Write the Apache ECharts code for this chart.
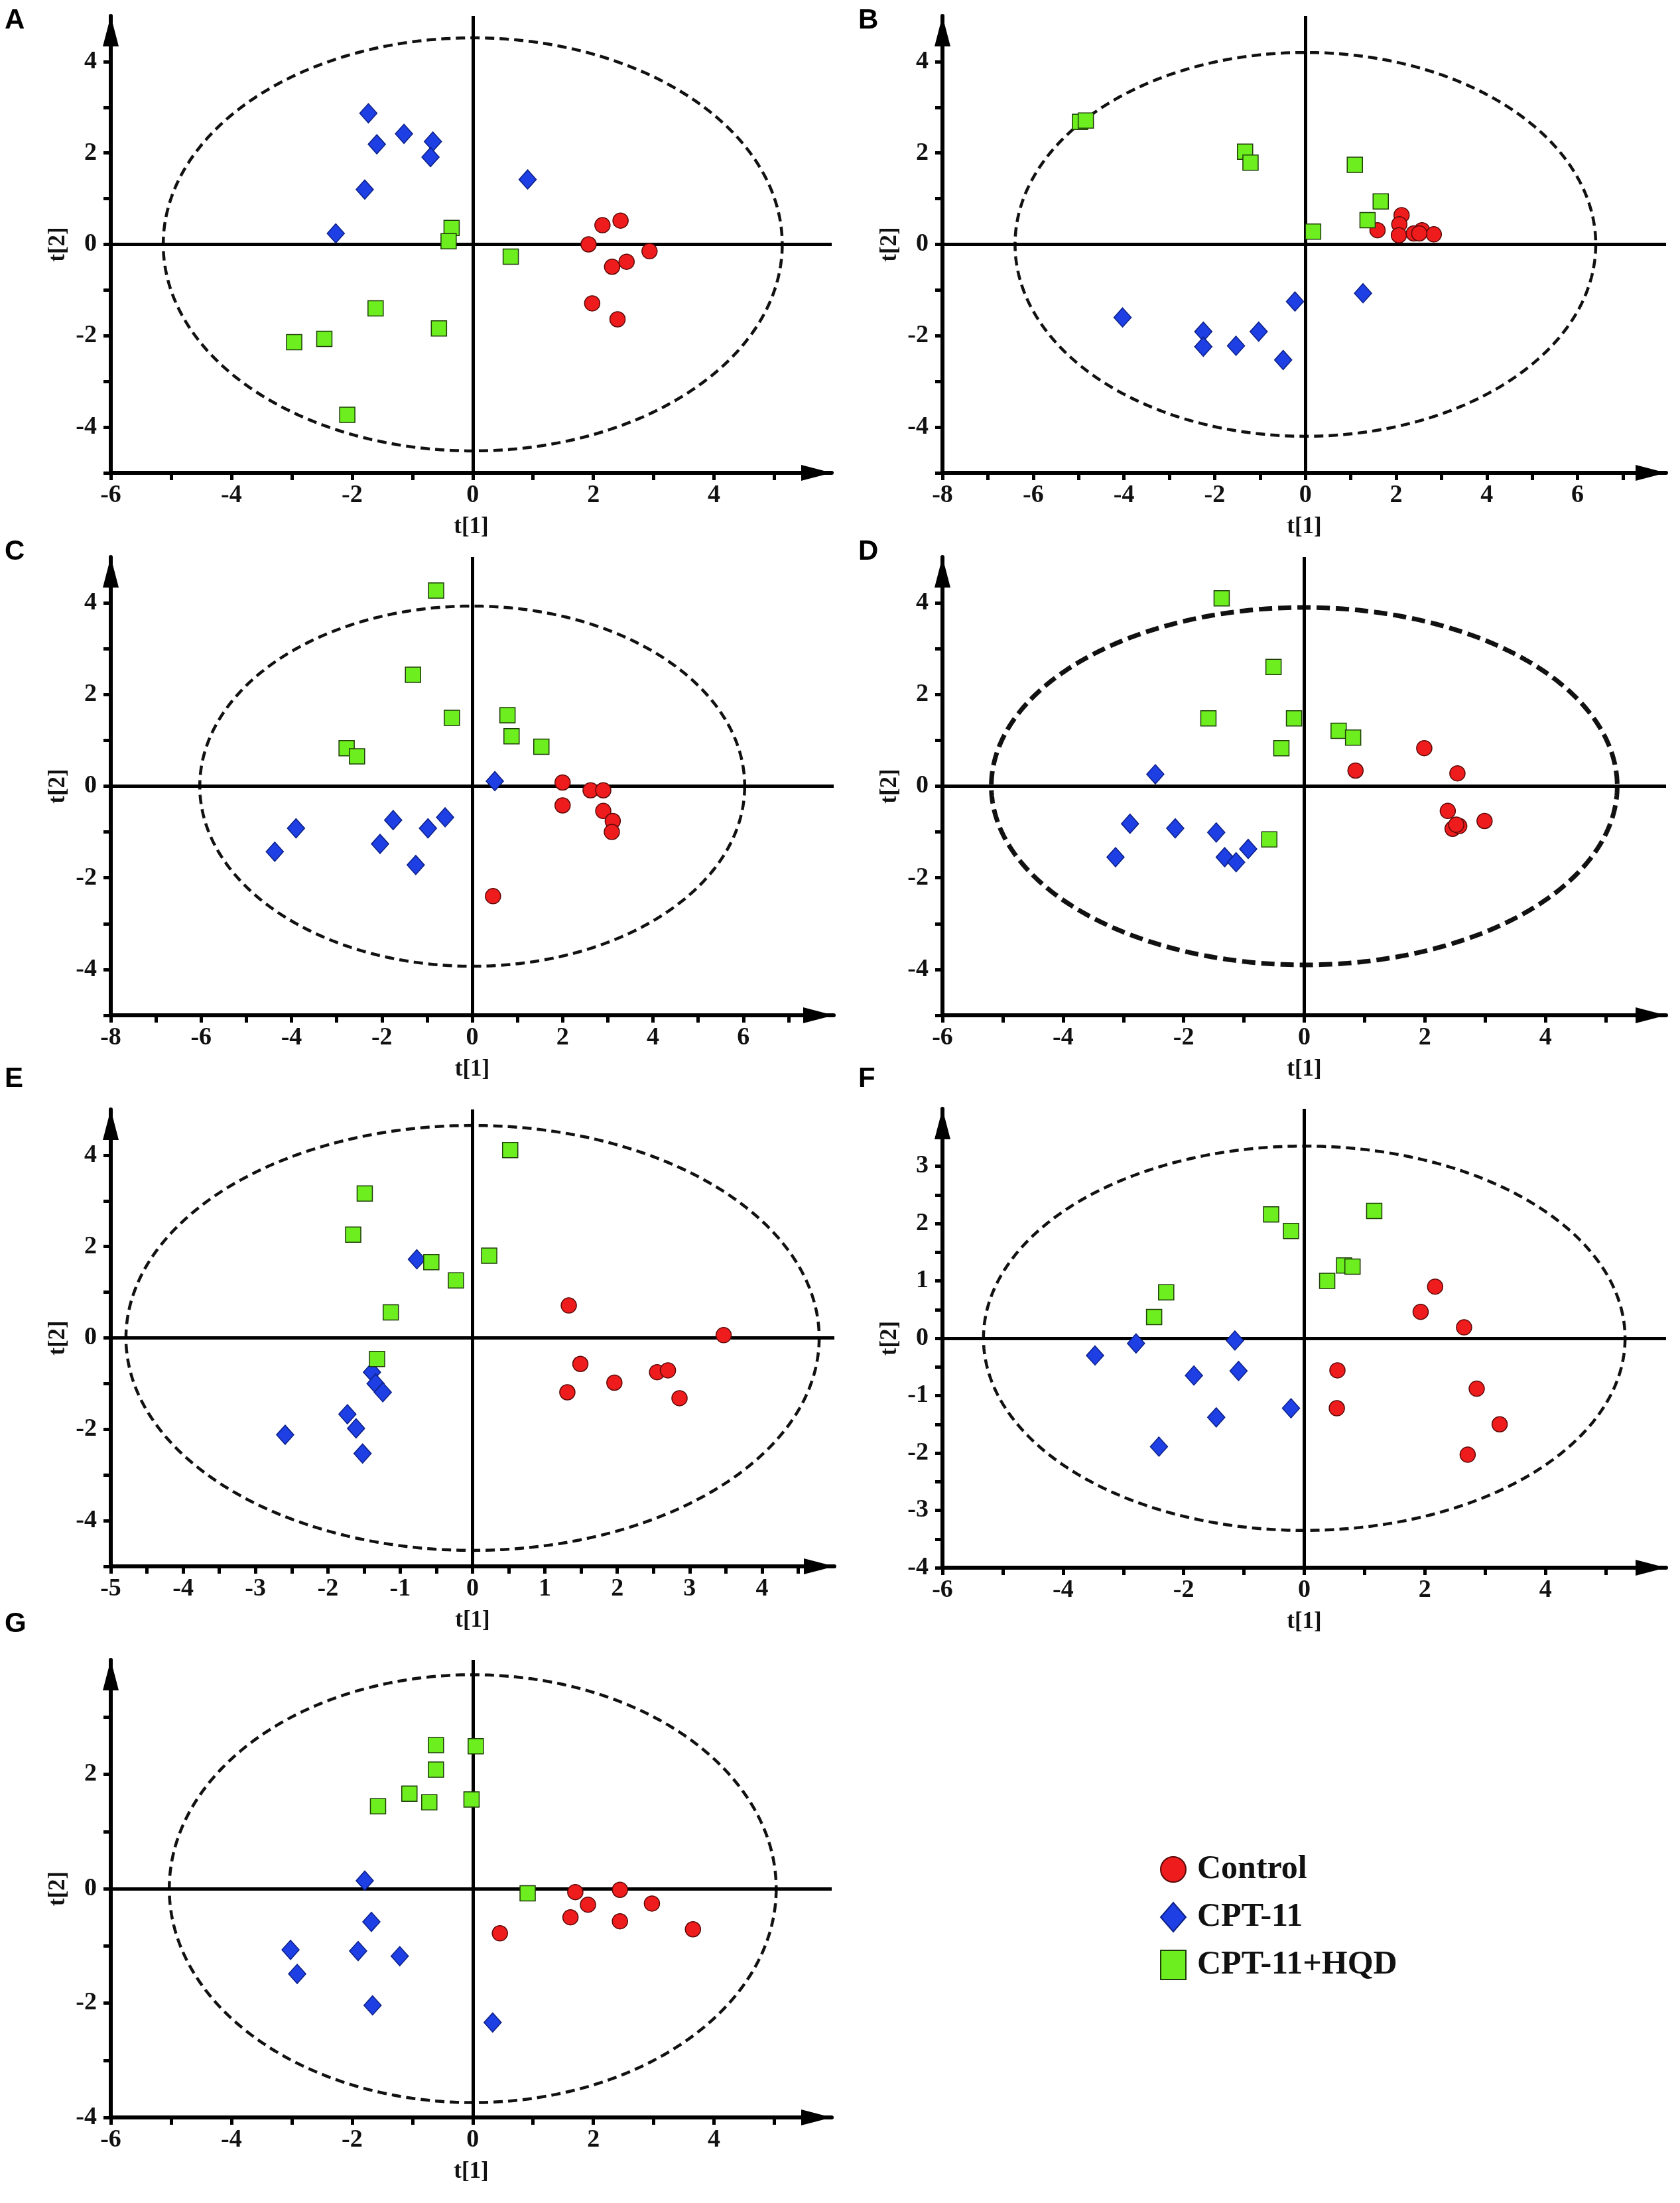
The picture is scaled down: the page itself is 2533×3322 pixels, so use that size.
<!DOCTYPE html>
<html><head><meta charset="utf-8">
<script src="https://cdn.jsdelivr.net/npm/echarts@6/dist/echarts.min.js"></script>
<style>html,body{margin:0;padding:0;background:#fff}#c{width:2533px;height:3322px}</style>
</head><body><div id="c"></div>
<script>
// ---------- DATA ----------
const groupNames = ['Control', 'CPT-11', 'CPT-11+HQD'];

// Panel A
const ctrlA = [[1.92,0.00],[2.15,0.42],[2.45,0.52],[2.93,-0.15],[2.31,-0.49],[2.55,-0.38],[1.98,-1.29],[2.40,-1.64]];
const cptA  = [[-1.73,2.87],[-1.59,2.19],[-1.14,2.42],[-0.66,2.25],[-0.70,1.91],[-1.79,1.20],[-2.27,0.24],[0.91,1.42]];
const hqdA  = [[-0.35,0.36],[-0.40,0.07],[0.63,-0.27],[-1.61,-1.40],[-0.56,-1.84],[-2.46,-2.07],[-2.96,-2.14],[-2.08,-3.73]];
const ellA  = [0, 0, 5.13, 4.52];
// Panel B
const ctrlB = [[1.59,0.31],[2.12,0.64],[2.07,0.44],[2.06,0.20],[2.39,0.24],[2.57,0.31],[2.83,0.22],[2.51,0.24]];
const cptB  = [[-4.03,-1.60],[-2.25,-1.91],[-2.25,-2.24],[-1.53,-2.22],[-1.03,-1.91],[-0.23,-1.25],[-0.49,-2.53],[1.27,-1.07]];
const hqdB  = [[-4.97,2.68],[-4.84,2.71],[-1.33,2.03],[-1.21,1.79],[1.09,1.74],[1.66,0.94],[1.37,0.53],[0.17,0.28]];
const ellB  = [0, 0, 6.40, 4.20];
// Panel C
const ctrlC = [[2.00,0.08],[2.00,-0.42],[2.62,-0.09],[2.90,-0.09],[2.90,-0.54],[3.11,-0.76],[3.09,-1.00],[0.46,-2.40]];
const cptC  = [[0.50,0.11],[-4.37,-1.43],[-3.90,-0.92],[-1.75,-0.74],[-2.04,-1.26],[-0.98,-0.92],[-0.60,-0.68],[-1.25,-1.72]];
const hqdC  = [[-0.80,4.27],[-1.31,2.43],[-0.45,1.49],[0.78,1.55],[0.87,1.09],[1.53,0.86],[-2.78,0.83],[-2.55,0.65]];
const ellC  = [0, 0, 6.03, 3.93];
// Panel D
const ctrlD = [[1.99,0.83],[0.85,0.34],[2.54,0.28],[2.38,-0.54],[2.46,-0.93],[2.57,-0.87],[2.99,-0.76],[2.52,-0.84]];
const cptD  = [[-2.47,0.26],[-2.89,-0.82],[-3.13,-1.55],[-2.14,-0.92],[-1.46,-1.01],[-1.32,-1.55],[-1.13,-1.66],[-0.93,-1.37]];
const hqdD  = [[-1.37,4.10],[-0.51,2.60],[-1.59,1.48],[-0.17,1.48],[-0.38,0.83],[0.57,1.21],[0.81,1.06],[-0.58,-1.16]];
const ellD  = [0, 0, 5.19, 3.90];
// Panel E
const ctrlE = [[1.33,0.71],[3.47,0.06],[1.49,-0.57],[1.96,-0.98],[2.55,-0.75],[2.70,-0.71],[1.31,-1.19],[2.86,-1.32]];
const cptE  = [[-0.77,1.72],[-1.39,-0.75],[-1.34,-1.00],[-1.24,-1.19],[-1.73,-1.67],[-1.61,-1.98],[-1.52,-2.53],[-2.59,-2.12]];
const hqdE  = [[0.52,4.11],[-1.49,3.16],[-1.65,2.26],[-0.57,1.66],[-0.23,1.26],[0.23,1.80],[-1.13,0.56],[-1.32,-0.46]];
const ellE  = [0, 0, 4.79, 4.65];
// Panel F
const ctrlF = [[2.17,0.90],[1.93,0.46],[2.65,0.19],[0.55,-0.56],[0.54,-1.22],[2.86,-0.88],[3.24,-1.50],[2.71,-2.03]];
const cptF  = [[-3.47,-0.30],[-2.79,-0.09],[-1.15,-0.04],[-1.83,-0.65],[-1.09,-0.57],[-1.46,-1.38],[-0.22,-1.22],[-2.41,-1.89]];
const hqdF  = [[-0.55,2.16],[-0.22,1.87],[1.16,2.22],[0.66,1.27],[0.80,1.25],[0.38,1.00],[-2.29,0.80],[-2.49,0.37]];
const ellF  = [0, 0, 5.32, 3.35];
// Panel G
const ctrlG = [[1.70,-0.06],[2.44,-0.02],[1.91,-0.28],[2.97,-0.26],[1.62,-0.50],[2.44,-0.57],[0.45,-0.78],[3.65,-0.71]];
const cptG  = [[-1.79,0.14],[-1.68,-0.58],[-3.02,-1.07],[-2.91,-1.49],[-1.90,-1.09],[-1.21,-1.18],[-1.66,-2.04],[0.33,-2.34]];
const hqdG  = [[-0.61,2.51],[0.05,2.49],[-0.61,2.08],[-1.05,1.66],[-0.72,1.51],[-0.02,1.56],[-1.57,1.44],[0.91,-0.08]];
const ellG  = [0, 0, 5.03, 3.74];

// Tick positions and tick labels
const xTicks6   = [-6,-5,-4,-3,-2,-1,0,1,2,3,4,5];
const xLabels6  = [-6,-4,-2,0,2,4];
const xTicks8   = [-8,-7,-6,-5,-4,-3,-2,-1,0,1,2,3,4,5,6,7];
const xLabels8  = [-8,-6,-4,-2,0,2,4,6];
const xTicksE   = [-5,-4.5,-4,-3.5,-3,-2.5,-2,-1.5,-1,-0.5,0,0.5,1,1.5,2,2.5,3,3.5,4,4.5];
const xLabelsE  = [-5,-4,-3,-2,-1,0,1,2,3,4];
const yTicks5   = [-5,-4,-3,-2,-1,0,1,2,3,4];
const yLabels5  = [-4,-2,0,2,4];
const yTicksF   = [-4,-3.5,-3,-2.5,-2,-1.5,-1,-0.5,0,0.5,1,1.5,2,2.5,3,3.5];
const yLabelsF  = [-4,-3,-2,-1,0,1,2,3];
const yTicksG   = [-4,-3,-2,-1,0,1,2,3];
const yLabelsG  = [-4,-2,0,2];

// ---------- LAYOUT ----------
const panels = [
  {letter:'A', lx:7,    ly:10,   grid:{left:167, top:24,   width:1087, height:689}, x:[-6,5.95], y:[-5,5], xt:xTicks6, xl:xLabels6, yt:yTicks5, yl:yLabels5, d:[ctrlA,cptA,hqdA], e:ellA, lw:4.5, dash:[14,8]},
  {letter:'B', lx:1294, ly:10,   grid:{left:1421,top:24,   width:1091, height:689}, x:[-8,7.95], y:[-5,5], xt:xTicks8, xl:xLabels8, yt:yTicks5, yl:yLabels5, d:[ctrlB,cptB,hqdB], e:ellB, lw:4.5, dash:[14,8]},
  {letter:'C', lx:7,    ly:811,  grid:{left:167, top:840,  width:1090, height:691}, x:[-8,8],    y:[-5,5], xt:xTicks8, xl:xLabels8, yt:yTicks5, yl:yLabels5, d:[ctrlC,cptC,hqdC], e:ellC, lw:4.5, dash:[14,8]},
  {letter:'D', lx:1294, ly:811,  grid:{left:1421,top:840,  width:1091, height:691}, x:[-6,6],    y:[-5,5], xt:xTicks6, xl:xLabels6, yt:yTicks5, yl:yLabels5, d:[ctrlD,cptD,hqdD], e:ellD, lw:7,   dash:[20,9]},
  {letter:'E', lx:7,    ly:1606, grid:{left:167, top:1673, width:1091, height:689}, x:[-5,5],    y:[-5,5], xt:xTicksE, xl:xLabelsE, yt:yTicks5, yl:yLabels5, d:[ctrlE,cptE,hqdE], e:ellE, lw:4.5, dash:[14,8]},
  {letter:'F', lx:1294, ly:1606, grid:{left:1421,top:1672, width:1091, height:692}, x:[-6,6],    y:[-4,4], xt:xTicks6, xl:xLabels6, yt:yTicksF, yl:yLabelsF, d:[ctrlF,cptF,hqdF], e:ellF, lw:4.5, dash:[14,8]},
  {letter:'G', lx:7,    ly:2428, grid:{left:167, top:2503, width:1087, height:690}, x:[-6,5.95], y:[-4,4], xt:xTicks6, xl:xLabels6, yt:yTicksG, yl:yLabelsG, d:[ctrlG,cptG,hqdG], e:ellG, lw:4.5, dash:[14,8]}
];

const SERIF = 'Liberation Serif';
const styles = [
  {symbol:'circle',  size:23,      color:'#ee1c1c', border:'#5a0808'},
  {symbol:'diamond', size:[26,29], color:'#1d3fe3', border:'#0c1f86'},
  {symbol:'rect',    size:23,      color:'#6cee1f', border:'#1f3d0a'}
];

const grids = [], xAxes = [], yAxes = [], series = [], graphics = [];
const axisLine = {onZero:false, lineStyle:{color:'#000', width:6}, symbol:['none','triangle'], symbolSize:[24,46], symbolOffset:[0,-23]};
const nameStyle = {fontFamily:SERIF, fontWeight:'bold', fontSize:35, color:'#111'};

panels.forEach((p, i) => {
  grids.push(Object.assign({containLabel:false}, p.grid));
  xAxes.push({
    type:'value', gridIndex:i, min:p.x[0], max:p.x[1],
    name:'t[1]', nameLocation:'middle', nameGap:64, nameTextStyle:nameStyle,
    axisLine:axisLine,
    axisTick:{show:true, inside:false, length:11, customValues:p.xt, lineStyle:{color:'#000', width:5}},
    axisLabel:{show:true, margin:15, customValues:p.xl, fontFamily:SERIF, fontWeight:'bold', fontSize:38, color:'#111'},
    splitLine:{show:false}, minorTick:{show:false}
  });
  yAxes.push({
    type:'value', gridIndex:i, min:p.y[0], max:p.y[1],
    name:'t[2]', nameLocation:'middle', nameGap:62, nameRotate:90, nameTextStyle:nameStyle,
    axisLine:axisLine,
    axisTick:{show:true, inside:false, length:11, customValues:p.yt, lineStyle:{color:'#000', width:5}},
    axisLabel:{show:true, margin:21, customValues:p.yl, fontFamily:SERIF, fontWeight:'bold', fontSize:38, color:'#111'},
    splitLine:{show:false}, minorTick:{show:false}
  });
  // Hotelling T2 ellipse (centre + semi-axes in data units, mapped through the axes)
  const lw = p.lw, dash = p.dash;
  series.push({
    type:'custom', xAxisIndex:i, yAxisIndex:i, silent:true, z:1,
    encode:{x:0, y:1},
    data:[p.e],
    renderItem: function (params, api) {
      const cx = api.value(0), cy = api.value(1), rx = api.value(2), ry = api.value(3);
      const c = api.coord([cx, cy]);
      const px = api.coord([cx + rx, cy])[0] - c[0];
      const py = c[1] - api.coord([cx, cy + ry])[1];
      const pts = [];
      for (let k = 0; k < 360; k++) {
        const t = k * Math.PI / 180;
        pts.push([c[0] + px * Math.cos(t), c[1] + py * Math.sin(t)]);
      }
      return {type:'polygon', shape:{points:pts}, style:{fill:'none', stroke:'#111', lineWidth:lw, lineDash:dash}};
    }
  });
  p.d.forEach((arr, g) => {
    const s = styles[g];
    const ser = {
      type:'scatter', name:groupNames[g], xAxisIndex:i, yAxisIndex:i, z:3,
      symbol:s.symbol, symbolSize:s.size, data:arr,
      itemStyle:{color:s.color, borderColor:s.border, borderWidth:1.5, opacity:1},
      emphasis:{disabled:true}
    };
    if (g === 0) {
      ser.markLine = {
        silent:true, symbol:['none','none'], label:{show:false}, z:2,
        lineStyle:{color:'#000', width:5, type:'solid'},
        data:[{xAxis:0}, {yAxis:0}]
      };
    }
    series.push(ser);
  });
  graphics.push({type:'text', left:p.lx, top:p.ly, style:{text:p.letter, font:'bold 42px "Liberation Sans", Arial, sans-serif', fill:'#000'}});
});

const chart = echarts.init(document.getElementById('c'), null, {renderer:'canvas'});
chart.setOption({
  backgroundColor:'#fff',
  animation:false,
  grid:grids, xAxis:xAxes, yAxis:yAxes, series:series,
  graphic:graphics,
  legend:{
    data:groupNames, orient:'vertical', left:1744, top:2789,
    itemWidth:38, itemHeight:44, itemGap:22,
    textStyle:{fontFamily:SERIF, fontWeight:'bold', fontSize:50, color:'#111', padding:[0,0,0,12]},
    selectedMode:false
  }
});
</script></body></html>
